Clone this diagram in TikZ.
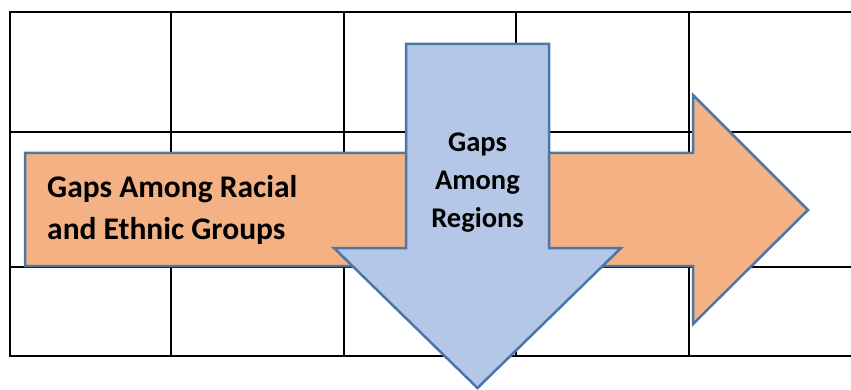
\documentclass[tikz,border=0pt]{standalone}
\usepackage{fontspec}
\setmainfont{Carlito}
\definecolor{arrowline}{HTML}{4A76A8}
\definecolor{orangefill}{HTML}{F4B183}
\definecolor{bluefill}{HTML}{B4C7E7}
\tikzset{
  gridline/.style={line width=2pt, black},
  bigarrow/.style={line width=2.5pt, draw=arrowline, line join=miter},
  orangetxt/.style={anchor=base west, inner sep=0pt, font=\fontsize{31.5}{38}\selectfont\bfseries},
  bluetxt/.style={anchor=base, inner sep=0pt, font=\fontsize{28.5}{34}\selectfont\bfseries}
}
\begin{document}
\begin{tikzpicture}[x=1pt,y=-1pt]
\useasboundingbox (0,0) rectangle (851,390);
% table grid
\draw[gridline] (851,12) -- (10,12) -- (10,356) -- (851,356);
\draw[gridline] (10,132) -- (851,132);
\draw[gridline] (10,267) -- (851,267);
\foreach \x in {171,344,516,689}
  \draw[gridline] (\x,12) -- (\x,356);
% orange right arrow
\draw[bigarrow, fill=orangefill] (25,153) -- (693,153) -- (693,95) -- (808,210) -- (693,324) -- (693,266) -- (25,266) -- cycle;
% blue down arrow
\draw[bigarrow, fill=bluefill] (406,44) -- (549,44) -- (549,248) -- (621,248) -- (477.5,388) -- (334,248) -- (406,248) -- cycle;
% texts
\node[orangetxt] (o1) at (47,198) {Gaps Among Racial};
\node[orangetxt] (o2) at (47,239) {and Ethnic Groups};
\node[bluetxt] (b1) at (477.5,152) {Gaps};
\node[bluetxt] (b2) at (477.5,190) {Among};
\node[bluetxt] (b3) at (477.5,228) {Regions};
\end{tikzpicture}
\end{document}
